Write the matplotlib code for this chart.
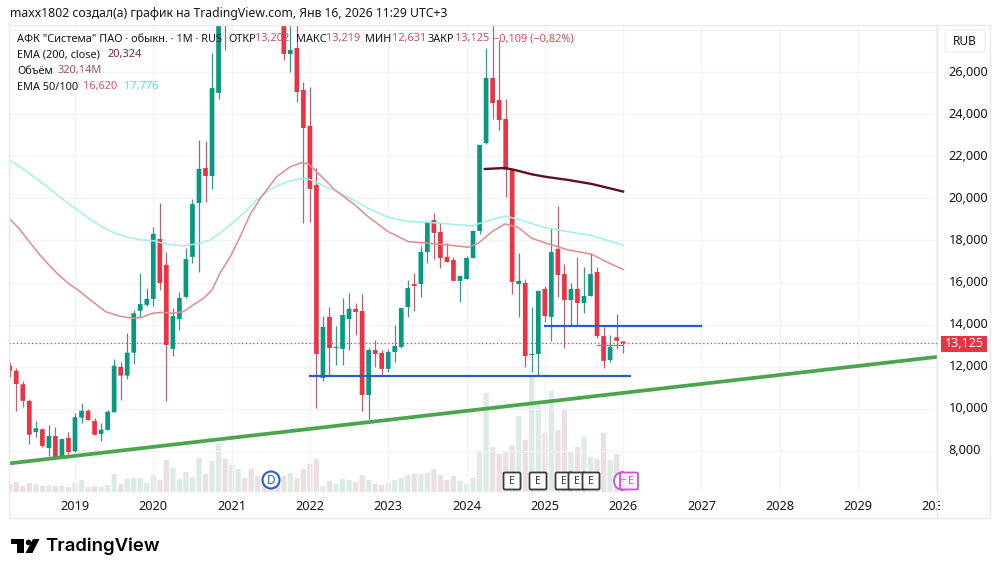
import numpy as np
import matplotlib
matplotlib.use("Agg")
import matplotlib.pyplot as plt
from matplotlib.patches import Rectangle, Circle, FancyBboxPatch, Polygon, Wedge
from matplotlib.transforms import Bbox, ScaledTranslation

plt.rcParams['font.family'] = ['Noto Sans', 'DejaVu Sans']

# monthly candles, index 0 = Jan 2019, first candle = Mar 2018
first_month = -10
opens = [12050, 11810, 11170, 10380, 8900, 9030, 8140, 8710, 7750, 8620,
         7990, 9580, 9910, 9430, 8810, 9000, 9840, 12000, 11580, 12670, 14660, 14940,
         15220, 18070, 16840, 12850, 14270, 15320, 17220, 19780, 21440, 21060, 25010, 32000,
         29000, 31000, 33500, 32500, 31500, 30500, 30000, 29500, 29000, 26860, 27140, 25150,
         23440, 20640, 11470, 14370, 12890, 12850, 14270, 14750, 14650, 10660, 12800, 12660,
         11900, 12700, 12940, 14840, 15930, 15930, 17450, 18970, 18400, 17220, 17070, 16080,
         16170, 17170, 18450, 22630, 25720, 24670, 23770, 21350, 15930, 15980, 12560, 12610,
         15700, 14370, 17600, 16410, 15170, 15700, 15030, 15360, 16500, 13460, 12320, 13400, 13202]
closes = [11810, 11180, 10380, 8770, 9080, 8240, 8710, 7700, 8570, 7950,
          9600, 9910, 9470, 8770, 9010, 9870, 12050, 11580, 12670, 14540, 14980, 15220,
          18310, 15980, 13040, 14410, 15270, 17120, 19730, 21400, 21060, 25240, 29000, 29000,
          31000, 33500, 32500, 31500, 30500, 30000, 29500, 29000, 26860, 27050, 25050, 23340,
          20450, 12610, 13890, 12890, 12940, 14460, 14750, 14600, 10660, 12800, 12610, 11900,
          12700, 12990, 14790, 15740, 15840, 17450, 18830, 18360, 17170, 16980, 16080, 16310,
          17170, 18450, 22540, 25720, 24530, 23720, 21350, 16030, 16080, 12510, 12610, 15600,
          14410, 17450, 16360, 15170, 15700, 15030, 15360, 16410, 13460, 12280, 12940, 13234, 13125]
highs = [12240, 11930, 11340, 10470, 9430, 9080, 9250, 9130, 8570, 8890,
         9820, 10270, 10010, 9580, 9340, 9950, 12370, 12240, 13620, 14700, 16470, 15730,
         18640, 19780, 17450, 14790, 15550, 17640, 19970, 22770, 22730, 26910, 29800, 32800,
         32000, 34500, 34500, 33500, 32500, 31500, 30800, 30000, 29500, 28300, 28500, 25530,
         25290, 21440, 14410, 14840, 13940, 15270, 15510, 15030, 15460, 12890, 13270, 12800,
         12850, 13990, 14790, 16120, 16460, 17740, 18930, 19310, 18830, 17880, 17220, 16360,
         17260, 18500, 22540, 27140, 28240, 27520, 24720, 21350, 17410, 16170, 14840, 15650,
         15840, 18590, 19640, 16880, 15980, 17220, 16740, 17410, 16740, 13890, 13510, 14510, 13219]
lows = [11530, 9890, 10100, 8320, 8650, 8200, 7780, 7610, 7700, 7700,
        7940, 9320, 9470, 8760, 8460, 8980, 9840, 10420, 11410, 12120, 14300, 14900,
        14890, 15650, 10380, 12510, 13750, 15270, 16930, 16500, 19830, 20450, 24720, 27050,
        28500, 30000, 31500, 30500, 29500, 29000, 28700, 28400, 26570, 26000, 24580, 18830,
        18880, 10040, 11330, 11610, 12090, 12090, 12800, 13510, 9900, 9520, 11990, 11610,
        11750, 12230, 12890, 14370, 14650, 15320, 16930, 17120, 16690, 16980, 16080, 15080,
        16170, 17170, 18310, 22580, 23770, 23250, 20070, 15460, 14370, 11990, 11750, 11610,
        14130, 13230, 15320, 12890, 13940, 13990, 14560, 15360, 13370, 11940, 12230, 12850, 12631]

# volume in millions of shares
volumes = [480, 600, 360, 540, 480, 360, 420, 360, 360, 300,
           540, 720, 300, 360, 300, 420, 1080, 480, 780, 840, 840, 540,
           1020, 720, 1920, 1440, 780, 1200, 900, 2040, 1080, 1860, 2880, 1980,
           1620, 1380, 840, 1380, 960, 720, 840, 840, 960, 1140, 840, 1380,
           1680, 1980, 360, 660, 480, 780, 720, 600, 1020, 720, 480, 420,
           540, 720, 840, 1020, 1080, 1080, 1140, 1380, 1020, 720, 960, 660,
           480, 840, 2460, 5940, 2700, 2280, 2460, 2820, 4560, 3120, 6900, 5220,
           3540, 6060, 3720, 4980, 2460, 2700, 3300, 2100, 1980, 3540, 1920, 2280, 320.14]

# moving averages, read at (month, price)
ema100_months = [-10.1, -8.6, -7, -5, -3.5, -1.9, 0, 2.1, 4.2, 6.2, 8.3, 10.3, 12, 13.9, 16.6,
                 19.2, 20.7, 22.2, 24, 26.1, 27.8, 29.9, 31.9, 34, 35.5, 37, 38.6, 39.8, 42.4,
                 44.9, 48, 51.1, 54.1, 57.2, 60.8, 62.8, 65.9, 67.9, 72, 75.6, 79.2, 84]
ema100_values = [21823, 21538, 21191, 20716, 20364, 19956, 19528, 19053, 18626, 18341, 18132,
                 18023, 17989, 17833, 17738, 17866, 18023, 18341, 18783, 19367, 19923, 20431,
                 20716, 20906, 20953, 20763, 20507, 20398, 19956, 19528, 19101, 18892, 18863,
                 18783, 18688, 18892, 19163, 19005, 18607, 18417, 18227, 17776]
ema50_months = [-10.1, -8.6, -7, -5.5, -4, -2.5, -0.9, 0.6, 2.7, 4.7, 6.7, 8.8, 10.3, 11.8, 13.4,
                14.9, 16.6, 18.1, 19.7, 21, 22.2, 23.8, 25.3, 26.8, 28.4, 30.9, 33, 34.7, 35.8,
                37, 38.6, 39.8, 42.9, 44.9, 48, 51.1, 54.1, 57.2, 60.3, 61.8, 63.9, 65.9, 67.9,
                70, 72, 75.6, 79.2, 81.5, 84]
ema50_values = [19053, 18578, 17942, 17358, 16835, 16360, 15933, 15614, 15092, 14617, 14413,
                14303, 14351, 14541, 14588, 14541, 14617, 14935, 15253, 15648, 16441, 17229,
                18179, 19210, 20003, 21029, 21504, 21694, 21633, 21267, 20792, 20398, 19685,
                19129, 18417, 17942, 17866, 17785, 17676, 17866, 18417, 18783, 18626, 18103,
                17894, 17548, 17343, 16978, 16620]
ema200_months = [62.8, 65.9, 67.4, 70, 72, 75.6, 79.2, 84]
ema200_values = [21395, 21443, 21348, 21143, 21029, 20873, 20683, 20324]

price_ticks = [8000, 10000, 12000, 14000, 16000, 18000, 20000, 22000, 24000, 26000, 28000]
price_labels = ['8,000', '10,000', '12,000', '14,000', '16,000', '18,000', '20,000', '22,000',
                '24,000', '26,000', '']
year_labels = ['2019', '2020', '2021', '2022', '2023', '2024', '2025', '2026', '2027', '2028',
               '2029', '2030']
last_price = 13125

# hand drawn levels: (month from, month to, price)
support_high = (72, 96, 13950)
support_low = (36, 85, 11580)
short_level = (80, 84, 13040)
trend_months = [-10.1, 132.1]
trend_values = [7410, 12470]

UP = '#089981'
DOWN = '#ec3345'
UP_WICK = '#3f9685'
DOWN_WICK = '#b86470'
UP_VOL = '#dcebe3'
DOWN_VOL = '#ecdfe2'
GRID = '#f1f3f8'
BORDER = '#e8eaf0'
TEXT = '#131722'

W, H = 1000, 575
LEFT, RIGHT, TOP, BOTTOM = 9, 937, 26, 492


def px_rect(l, r, t, b):
    return [l / W, 1 - b / H, (r - l) / W, (b - t) / H]


fig = plt.figure(figsize=(W / 100, H / 100), dpi=100, facecolor='white')

# volume sits under everything else, 1 px = 60M
vol_ax = fig.add_axes(px_rect(LEFT, RIGHT, TOP, BOTTOM), zorder=1)
ax = fig.add_axes(px_rect(LEFT, RIGHT, TOP, BOTTOM), zorder=2)
chrome = fig.add_axes([0, 0, 1, 1], zorder=3)
chrome.set_xlim(0, W)
chrome.set_ylim(H, 0)
chrome.axis('off')
chrome.patch.set_alpha(0)

months = np.arange(first_month, first_month + len(opens))
opens = np.array(opens, dtype=float)
closes = np.array(closes, dtype=float)
is_up = closes >= opens

x_range = (-10.115, 132.1)

vol_ax.set_xlim(x_range)
vol_ax.set_ylim(0, 27960)
vol_bars = vol_ax.bar(months, volumes, width=0.8, color=[UP_VOL if u else DOWN_VOL for u in is_up])
for b in vol_bars:
    b.set_snap(False)
vol_ax.axis('off')

ax.set_xlim(x_range)
ax.set_ylim(6052, 28187)
ax.patch.set_alpha(0)
for s in ax.spines.values():
    s.set_visible(False)
ax.set_axisbelow(True)
ax.grid(True, color=GRID, lw=0.9)

ax.yaxis.tick_right()
ax.set_yticks(price_ticks)
ax.set_yticklabels(price_labels, fontsize=9.2, color=TEXT)
ax.set_xticks(np.arange(0, 12 * len(year_labels), 12))
ax.set_xticklabels(year_labels, fontsize=9.2, color=TEXT)
ax.tick_params(axis='y', length=0, pad=8.5)
ax.tick_params(axis='x', length=0, pad=5.5)

# price labels sit a little above their grid lines
nudge = ScaledTranslation(0, 1.5 / 100, fig.dpi_scale_trans)
for label in ax.get_yticklabels():
    label.set_transform(label.get_transform() + nudge)

# the last year label runs into the price scale and gets cut
cut = ax.get_xticklabels()[-1]
cut.set_clip_box(Bbox([[0, 0], [940, H]]))
cut.set_clip_on(True)

ax.axhline(last_price, color=DOWN, lw=0.9, ls=(0, (1, 2)), zorder=1.5)

# candles
ax.vlines(months, lows, highs, colors=[UP_WICK if u else DOWN_WICK for u in is_up], lw=0.9, zorder=2)
candle_bars = ax.bar(months, np.abs(closes - opens), bottom=np.minimum(opens, closes), width=0.72,
                     color=[UP if u else DOWN for u in is_up], zorder=3, linewidth=0)
for b in candle_bars:
    b.set_snap(False)

ax.plot(ema100_months, ema100_values, color='#a0f0ea', lw=1.1, zorder=4)
ax.plot(ema50_months, ema50_values, color='#e08c8b', lw=1.1, zorder=4)
ax.plot(ema200_months, ema200_values, color='#5f1020', lw=1.7, zorder=4)

ax.plot(support_high[:2], [support_high[2]] * 2, color='#2a5cc4', lw=1.6, zorder=5)
ax.plot(support_low[:2], [support_low[2]] * 2, color='#2a5cc4', lw=1.6, zorder=5)
ax.plot(short_level[:2], [short_level[2]] * 2, color='#3f9fa0', lw=0.9, zorder=5)
ax.plot(trend_months, trend_values, color='#4ba54f', lw=2.7, zorder=5, solid_capstyle='butt')

# pane frame
chrome.add_patch(Rectangle((9, 25), 981, 493, fill=False, ec=BORDER, lw=1))
chrome.plot([937, 937], [25, 518], color=BORDER, lw=1)
chrome.add_patch(FancyBboxPatch((945, 30), 40, 22, boxstyle='round,pad=0,rounding_size=3',
                                fc='white', ec='#eceef3', lw=1))
chrome.text(964.5, 41.5, 'RUB', fontsize=8.6, color=TEXT, ha='center', va='center')
chrome.add_patch(Rectangle((941, 336), 46, 16, fc=DOWN, ec='none'))
chrome.text(964, 343.5, '13,125', fontsize=9, color='white', ha='center', va='center', weight='bold')

# header and legend
chrome.text(10, 14, 'maxx1802 создал(а) график на TradingView.com, Янв 16, 2026 11:29 UTC+3',
            fontsize=8.8, color=TEXT, va='center')
legend_rows = [
    (17, 39, 'АФК "Система" ПАО · обыкн. · 1M · RUS', TEXT),
    (228, 39, 'ОТКР', TEXT), (255, 39, '13,202', '#c9505c'),
    (296, 39, 'МАКС', TEXT), (326, 39, '13,219', '#c9505c'),
    (365, 39, 'МИН', TEXT), (392, 39, '12,631', '#c9505c'),
    (428, 39, 'ЗАКР', TEXT), (455, 39, '13,125', '#c9505c'),
    (493, 39, '−0,109 (−0,82%)', '#c9505c'),
    (17, 55, 'EMA (200, close)', TEXT), (107, 55, '20,324', '#7c2a38'),
    (17, 71, 'Объём', TEXT), (58, 71, '320,14M', '#a0525c'),
    (17, 87, 'EMA 50/100', TEXT), (83, 87, '16,620', '#e0555f'), (124, 87, '17,776', '#55e0e0'),
]
for x, y, s, c in legend_rows:
    chrome.text(x, y, s, fontsize=7.9, color=c, va='center')

# event markers above the time axis
chrome.add_patch(Circle((271, 480), 8.5, fc='white', ec='#2a5cc4', lw=1.5))
chrome.text(271, 480, 'D', fontsize=8.5, color='#2a5cc4', ha='center', va='center', weight='bold')
for x in [512, 538, 564, 577, 591]:
    chrome.add_patch(FancyBboxPatch((x - 8.5, 472.5), 17, 17, boxstyle='round,pad=0,rounding_size=1.5',
                                    fc='white', ec='#3a3a3a', lw=1.3))
    chrome.text(x, 481, 'E', fontsize=7.6, color='#3a3a3a', ha='center', va='center')
chrome.add_patch(Wedge((623, 481), 9, 90, 270, fc='white', ec='#cf50d8', lw=1.3))
chrome.add_patch(FancyBboxPatch((620, 472.5), 18, 17, boxstyle='round,pad=0,rounding_size=1.5',
                                fc='#fdf2fd', ec='#cf50d8', lw=1.3))
chrome.text(623, 481, '÷', fontsize=8, color='#cf50d8', ha='center', va='center')
chrome.text(631, 481, 'E', fontsize=7.6, color='#cf50d8', ha='center', va='center')

# logo
chrome.add_patch(Polygon([(11, 539), (24, 539), (24, 553), (17, 553), (17, 544), (11, 544)],
                         fc='black', ec='none'))
chrome.add_patch(Circle((28.5, 542.5), 2.8, fc='black', ec='none'))
chrome.add_patch(Polygon([(33, 539), (39.5, 539), (32.5, 553), (25.5, 553)], fc='black', ec='none'))
chrome.text(45.5, 546.5, 'TradingView', fontsize=13.4, color='black', va='center', weight='semibold',
            family=['Inter', 'Noto Sans'])

fig.savefig('out.png', dpi=100)
